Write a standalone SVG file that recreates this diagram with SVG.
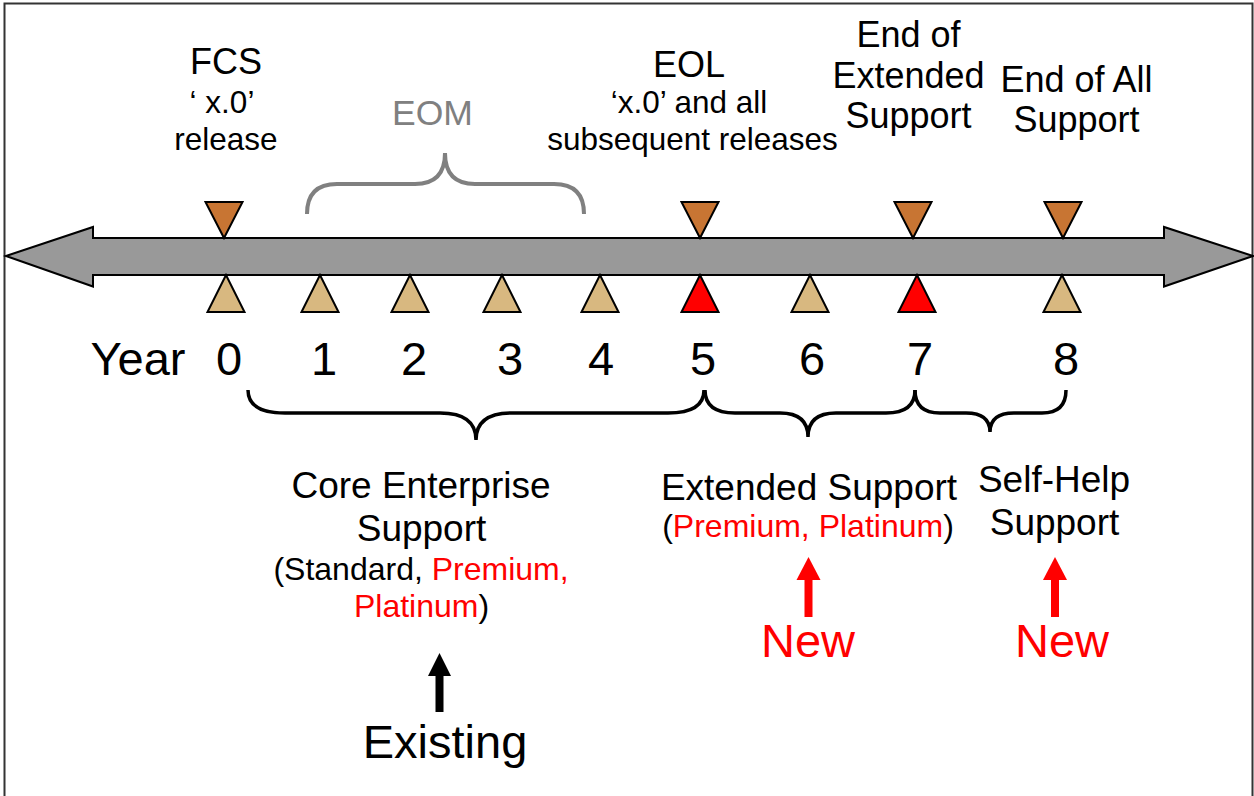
<svg xmlns="http://www.w3.org/2000/svg" width="1254" height="796" viewBox="0 0 1254 796">
  <defs>
    <style>
      text { font-family: "Liberation Sans", Arial, sans-serif; fill: #000; text-anchor: middle; }
      .title { font-size: 36px; }
      .sub { font-size: 31.5px; }
      .big { font-size: 37px; }
      .par { font-size: 32px; }
      .huge { font-size: 47px; }
      .red { fill: #FF0000; }
      .gray { fill: #808080; }
      .down { fill: #C87533; stroke: #000; stroke-width: 2; stroke-linejoin: miter; }
      .up { fill: #D8B880; stroke: #000; stroke-width: 2; }
      .upred { fill: #FF0000; stroke: #000; stroke-width: 2; }
      .brace { fill: none; stroke: #000; stroke-width: 3.5; stroke-linecap: butt; }
      .gbrace { fill: none; stroke: #808080; stroke-width: 4; }
    </style>
  </defs>

  <rect x="0" y="0" width="1254" height="796" fill="#fff"/>
  <path d="M4.5,796 V3.5 H1252.5 V796" fill="none" stroke="#333" stroke-width="2"/>

  <g id="timeline-axis">
    <polygon points="6,256 93,227 93,238 1164,238 1164,227 1253,256 1164,286.5 1164,275 93,275 93,286.5" fill="#999999" stroke="#000" stroke-width="2" stroke-linejoin="miter"/>
  </g>

  <g id="fcs">
    <polygon class="down" points="205.5,202 242.5,202 224,238"/>
    <text class="title" x="226" y="74">FCS</text>
    <text class="sub" x="222" y="113">‘ x.0’</text>
    <text class="sub" x="226" y="150">release</text>
  </g>

  <g id="eom">
    <text class="gray" x="432.5" y="125" style="font-size:35.5px">EOM</text>
  </g>

  <g id="eol">
    <polygon class="down" points="681.5,202 718.5,202 700,238"/>
    <text class="title" x="689" y="77">EOL</text>
    <text class="sub" x="689" y="113">‘x.0’ and all</text>
    <text class="sub" x="692.5" y="150">subsequent releases</text>
  </g>

  <g id="end-extended">
    <polygon class="down" points="894.5,202 931.5,202 913,238"/>
    <text class="title" x="908.5" y="47">End of</text>
    <text class="title" x="908.5" y="88">Extended</text>
    <text class="title" x="908.5" y="128">Support</text>
  </g>

  <g id="end-all">
    <polygon class="down" points="1044.5,202 1081.5,202 1063,238"/>
    <text class="title" x="1076.5" y="92">End of All</text>
    <text class="title" x="1076.5" y="132">Support</text>
  </g>

  <g id="year-markers">
    <polygon class="up" points="207.5,312 244.5,312 226,275"/>
    <polygon class="up" points="301.5,312 338.5,312 320,275"/>
    <polygon class="up" points="391.5,312 428.5,312 410,275"/>
    <polygon class="up" points="483.5,312 520.5,312 502,275"/>
    <polygon class="up" points="581.5,312 618.5,312 600,275"/>
    <polygon class="upred" points="681.5,312 718.5,312 700,275"/>
    <polygon class="up" points="791.5,312 828.5,312 810,275"/>
    <polygon class="upred" points="898.5,312 935.5,312 917,275"/>
    <polygon class="up" points="1043.5,312 1080.5,312 1062,275"/>
  </g>

  <g id="year-labels">
    <text class="huge" x="138" y="375">Year</text>
    <text class="huge" x="229" y="375">0</text>
    <text class="huge" x="324" y="375">1</text>
    <text class="huge" x="414" y="375">2</text>
    <text class="huge" x="510" y="375">3</text>
    <text class="huge" x="601" y="375">4</text>
    <text class="huge" x="703" y="375">5</text>
    <text class="huge" x="812" y="375">6</text>
    <text class="huge" x="920" y="375">7</text>
    <text class="huge" x="1066" y="375">8</text>
  </g>

  <g id="core-support">
    <text class="big" x="421" y="498">Core Enterprise</text>
    <text class="big" x="421.5" y="541">Support</text>
    <text class="par" x="421" y="580">(Standard, <tspan class="red">Premium,</tspan></text>
    <text class="par" x="421.5" y="617"><tspan class="red">Platinum</tspan>)</text>
    <text class="huge" x="445" y="758">Existing</text>
  </g>

  <g id="extended-support">
    <text class="big" x="809" y="500">Extended Support</text>
    <text class="par" x="808" y="537">(<tspan class="red">Premium, Platinum</tspan>)</text>
    <text class="huge red" x="808" y="657">New</text>
  </g>

  <g id="self-help-support">
    <text class="big" x="1054" y="492">Self-Help</text>
    <text class="big" x="1054.5" y="535">Support</text>
    <text class="huge red" x="1062" y="657">New</text>
  </g>

  <g id="connectors">
    <path class="gbrace" d="M307,214 Q307,184 337,184 L415,184 Q445,184 445,153 Q445,184 475,184 L554,184 Q584,184 584,214"/>
    <path class="brace" d="M248,390 Q248,413 285,413 L440,413 Q476,413 476,440 Q476,413 512,413 L668,413 Q704,413 704,390"/>
    <path class="brace" d="M705,390 Q705,413 735,413 L780,413 Q808,413 808,437 Q808,413 836,413 L886,413 Q915,413 915,390"/>
    <path class="brace" d="M915,390 Q915,413 940,413 L966,413 Q990,413 990,432 Q990,413 1014,413 L1042,413 Q1066,413 1066,390"/>
    <g id="arrow-existing">
      <rect x="435.5" y="675" width="8" height="37" fill="#000"/>
      <polygon points="428,676 451,676 439.5,653" fill="#000"/>
    </g>
    <g id="arrow-new-extended">
      <rect x="804.5" y="579" width="8" height="38" fill="#FF0000"/>
      <polygon points="796.5,580 820.5,580 808.5,557" fill="#FF0000"/>
    </g>
    <g id="arrow-new-selfhelp">
      <rect x="1051" y="579" width="8" height="38" fill="#FF0000"/>
      <polygon points="1043,580 1067,580 1055,557" fill="#FF0000"/>
    </g>
  </g>
</svg>
